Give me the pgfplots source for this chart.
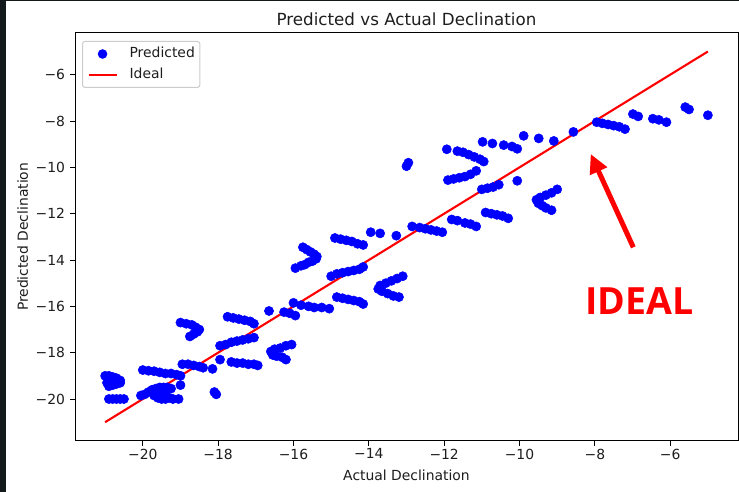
\documentclass[border=0pt]{standalone}
\usepackage{fontspec}
\setmainfont{DejaVu Sans}
\newfontfamily\annofont{Open Sans}
\usepackage{pgfplots}
\usepackage{pgfplotstable}
\pgfplotsset{compat=1.18}
\usetikzlibrary{arrows.meta}

\definecolor{mplblue}{RGB}{0,0,255}
\definecolor{mplred}{RGB}{255,0,0}
\definecolor{panel}{RGB}{20,25,28}
\definecolor{legendedge}{RGB}{204,204,204}
\definecolor{txt}{RGB}{30,30,30}

% actual vs predicted declination
\pgfplotstableread{
x y
-21.0 -19.0
-20.9 -19.0
-20.8 -19.05
-20.7 -19.1
-20.6 -19.2
-20.6 -19.3
-20.7 -19.35
-20.8 -19.4
-20.9 -19.45
-20.95 -19.3
-20.9 -20.0
-20.8 -20.0
-20.7 -20.0
-20.6 -20.0
-20.5 -20.0
-20.0 -18.75
-19.85 -18.78
-19.7 -18.8
-19.55 -18.85
-19.4 -18.9
-19.25 -18.9
-19.1 -18.95
-19.0 -19.0
-20.05 -19.85
-19.95 -19.8
-19.85 -19.7
-19.75 -19.6
-19.65 -19.55
-19.55 -19.5
-19.45 -19.5
-19.35 -19.5
-19.25 -19.55
-19.7 -19.85
-19.6 -19.95
-19.5 -20.0
-19.4 -20.0
-19.3 -19.95
-19.2 -20.0
-19.05 -20.0
-19.55 -19.75
-19.4 -19.7
-19.0 -19.4
-18.95 -18.5
-18.8 -18.5
-18.65 -18.55
-18.5 -18.6
-18.4 -18.65
-18.15 -18.7
-17.95 -18.3
-18.1 -19.7
-18.05 -19.8
-19.0 -16.7
-18.85 -16.75
-18.7 -16.8
-18.6 -16.9
-18.5 -17.0
-18.55 -17.1
-18.65 -17.2
-18.75 -17.3
-17.75 -16.45
-17.6 -16.5
-17.45 -16.55
-17.3 -16.6
-17.15 -16.65
-17.05 -16.75
-17.95 -17.7
-17.8 -17.65
-17.65 -17.55
-17.5 -17.5
-17.35 -17.45
-17.2 -17.4
-17.05 -17.35
-17.65 -18.4
-17.5 -18.45
-17.35 -18.45
-17.2 -18.5
-17.05 -18.5
-16.95 -18.55
-16.65 -16.2
-16.25 -16.25
-16.1 -16.3
-15.95 -16.4
-16.05 -17.65
-16.2 -17.7
-16.35 -17.8
-16.5 -17.85
-16.6 -17.95
-16.55 -18.1
-16.45 -18.15
-16.3 -18.2
-16.2 -18.3
-16.0 -15.85
-15.8 -15.95
-15.6 -16.0
-15.45 -16.05
-15.25 -16.05
-15.05 -16.1
-15.75 -13.45
-15.65 -13.55
-15.55 -13.65
-15.45 -13.75
-15.38 -13.85
-15.4 -13.95
-15.5 -14.05
-15.6 -14.1
-15.7 -14.2
-15.8 -14.25
-15.95 -14.35
-15.0 -14.7
-14.85 -14.6
-14.7 -14.55
-14.55 -14.5
-14.4 -14.45
-14.25 -14.4
-14.15 -14.3
-14.9 -13.05
-14.75 -13.1
-14.6 -13.15
-14.45 -13.2
-14.3 -13.3
-14.15 -13.35
-14.85 -15.6
-14.7 -15.65
-14.55 -15.7
-14.4 -15.75
-14.25 -15.8
-14.15 -15.9
-13.1 -14.7
-13.25 -14.8
-13.4 -14.9
-13.55 -15.0
-13.7 -15.1
-13.75 -15.25
-13.65 -15.35
-13.5 -15.45
-13.35 -15.55
-13.2 -15.6
-13.95 -12.8
-13.7 -12.85
-13.27 -12.95
-12.85 -12.55
-12.65 -12.6
-12.5 -12.65
-12.35 -12.7
-12.2 -12.75
-12.05 -12.8
-13.0 -9.95
-12.95 -9.8
-11.8 -12.25
-11.65 -12.3
-11.45 -12.4
-11.3 -12.45
-11.15 -12.55
-11.9 -10.55
-11.75 -10.5
-11.6 -10.45
-11.45 -10.4
-11.3 -10.3
-11.15 -10.15
-11.93 -9.22
-11.65 -9.3
-11.5 -9.35
-11.35 -9.45
-11.2 -9.55
-11.05 -9.65
-10.95 -9.75
-10.98 -8.9
-10.72 -8.97
-10.42 -9.04
-10.2 -9.1
-10.06 -9.2
-9.89 -8.64
-9.49 -8.75
-9.09 -8.86
-8.57 -8.47
-10.06 -10.58
-11.0 -10.95
-10.85 -10.9
-10.7 -10.85
-10.55 -10.75
-10.9 -11.95
-10.75 -12.0
-10.6 -12.05
-10.45 -12.1
-10.3 -12.2
-9.0 -10.95
-9.15 -11.1
-9.3 -11.2
-9.45 -11.3
-9.55 -11.4
-9.5 -11.55
-9.4 -11.65
-9.3 -11.75
-9.15 -11.85
-7.95 -8.05
-7.8 -8.1
-7.65 -8.15
-7.5 -8.2
-7.35 -8.25
-7.2 -8.35
-6.99 -7.7
-6.85 -7.8
-6.46 -7.9
-6.3 -7.95
-6.1 -8.05
-5.6 -7.4
-5.5 -7.5
-5.0 -7.75
}\predicted

\begin{document}
\begin{tikzpicture}
\useasboundingbox (0,0) rectangle (739pt,492pt);
\fill[white] (0,0) rectangle (739pt,492pt);
\fill[panel] (0,0) rectangle (6pt,492pt);
\fill[panel] (0,491pt) rectangle (739pt,492pt);

\begin{axis}[
  at={(75pt,51.3pt)}, anchor=south west,
  scale only axis, width=663pt, height=407.7pt,
  xmin=-21.8, xmax=-4.2, ymin=-21.8, ymax=-4.2,
  axis line style={line width=1pt, black},
  tick pos=left, tick align=outside,
  major tick length=4.9pt,
  every tick/.style={line width=1pt, black},
  xtick={-20,-18,-16,-14,-12,-10,-8,-6},
  ytick={-20,-18,-16,-14,-12,-10,-8,-6},
  xticklabels={−20,−18,−16,−14,−12,−10,−8,−6},
  yticklabels={−20,−18,−16,−14,−12,−10,−8,−6},
  tick label style={font=\fontsize{13.9}{16}\selectfont, text=txt},
  xticklabel style={anchor=north, inner sep=0pt, yshift=-3pt},
  yticklabel style={anchor=east, inner sep=0pt, xshift=-4.9pt},
  every axis title/.style={at={(axis description cs:0.5,1)}, anchor=base, yshift=7.3pt,
    font=\fontsize{16.7}{20}\selectfont, text=txt},
  every axis x label/.style={at={(axis description cs:0.5,-0.0988)}, anchor=base,
    font=\fontsize{13.9}{16}\selectfont, text=txt},
  every axis y label/.style={at={(axis description cs:-0.0709,0.5)}, rotate=90, anchor=base,
    font=\fontsize{13.9}{16}\selectfont, text=txt},
  title={Predicted vs Actual Declination},
  xlabel={Actual Declination},
  ylabel={Predicted Declination},
  legend cell align=left,
  legend style={at={(axis description cs:0,1)}, anchor=north west,
    xshift=7pt, yshift=-8pt,
    draw=legendedge, line width=1pt, rounded corners=2.5pt,
    fill=white, fill opacity=0.8, text opacity=1,
    inner xsep=5pt, inner ysep=6pt, row sep=8pt,
    font=\fontsize{13.9}{16}\selectfont, text=txt,
    nodes={inner sep=0pt, text height=10pt, text depth=3pt},
    /tikz/every odd column/.append style={column sep=12pt}},
]
\addplot[only marks, mark=*, mark size=4.6pt,
  mark options={draw=mplblue, fill=mplblue, line width=0.5pt},
  legend image code/.code={
    \path[draw=none, fill=none] (0pt,0pt) -- (28pt,0pt);
    \path[draw=none, fill=mplblue, fill opacity=1] (14pt,0pt) circle (4.8pt);
  }] table {\predicted};
\addlegendentry{Predicted}
\addplot[mplred, line width=2.1pt,
  legend image code/.code={\draw[mplred, line width=2.1pt, draw opacity=1] (0pt,0pt) -- (28pt,0pt);}]
  coordinates {(-21,-21) (-5,-5)};
\addlegendentry{Ideal}
\end{axis}

% hand-drawn call-out pointing at the diagonal
\draw[mplred, line width=5pt, -{Triangle[length=19pt,width=18pt]}]
  (633.3pt,244.7pt) -- (590.7pt,338pt);
\node[anchor=base, inner sep=0pt, text=mplred,
  font=\annofont\bfseries\fontsize{37.5}{40}\selectfont] at (639.5pt,177pt) {IDEAL};
\end{tikzpicture}
\end{document}
